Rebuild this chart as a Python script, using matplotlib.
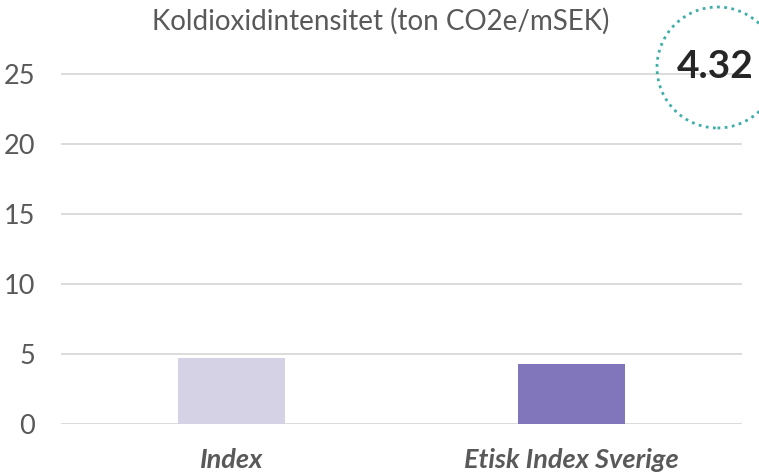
import matplotlib
matplotlib.use("Agg")
import matplotlib.pyplot as plt
from matplotlib.patches import Circle
from matplotlib.transforms import IdentityTransform

categories = ["Index", "Etisk Index Sverige"]
values = [4.72, 4.32]
bar_colors = ["#D5D2E6", "#8176BB"]
yticks = [0, 5, 10, 15, 20, 25]
title = "Koldioxidintensitet (ton CO2e/mSEK)"
highlight = values[1]

plt.rcParams["font.family"] = ["Lato", "DejaVu Sans"]
text_color = "#595959"

W, H, DPI = 759, 472, 100
fig = plt.figure(figsize=(W / DPI, H / DPI), dpi=DPI)

ymax = 25.1
bottom_px, unit_px = 424, 14.0
top_px = bottom_px - ymax * unit_px
ax = fig.add_axes([61 / W, (H - bottom_px) / H, (742 - 61) / W, (bottom_px - top_px) / H])

x = range(len(categories))
ax.bar(x, values, width=0.315, color=bar_colors, zorder=3)
ax.set_xlim(-0.5, 1.5)
ax.set_ylim(0, ymax)
ax.set_yticks(yticks)
ax.set_xticks(list(x))
ax.set_xticklabels(categories, fontsize=19.5, fontweight="bold", fontstyle="italic", color=text_color)
for lab in ax.get_yticklabels():
    lab.set_fontsize(19.5)
    lab.set_color(text_color)
ax.tick_params(axis="both", length=0)
ax.tick_params(axis="x", pad=17)
ax.tick_params(axis="y", pad=18.5)
ax.yaxis.grid(True, color="#D9D9D9", linewidth=1.3, zorder=0)
for s in ax.spines.values():
    s.set_visible(False)

fig.text(381 / W, 1 - 21 / H, title, ha="center", va="center", fontsize=20, color=text_color)

# dotted callout circle with the highlighted value
circ = Circle((717.5, H - 67.5), 60.5, transform=IdentityTransform(), fill=False,
              edgecolor="#3FADA8", linewidth=2.0, linestyle=(0, (1, 1.6)))
fig.patches.append(circ)
fig.text(715 / W, 1 - 66 / H, f"{highlight:.2f}", ha="center", va="center",
         fontsize=28, fontweight="bold", color="#262626")

fig.savefig("out.png", dpi=DPI)
